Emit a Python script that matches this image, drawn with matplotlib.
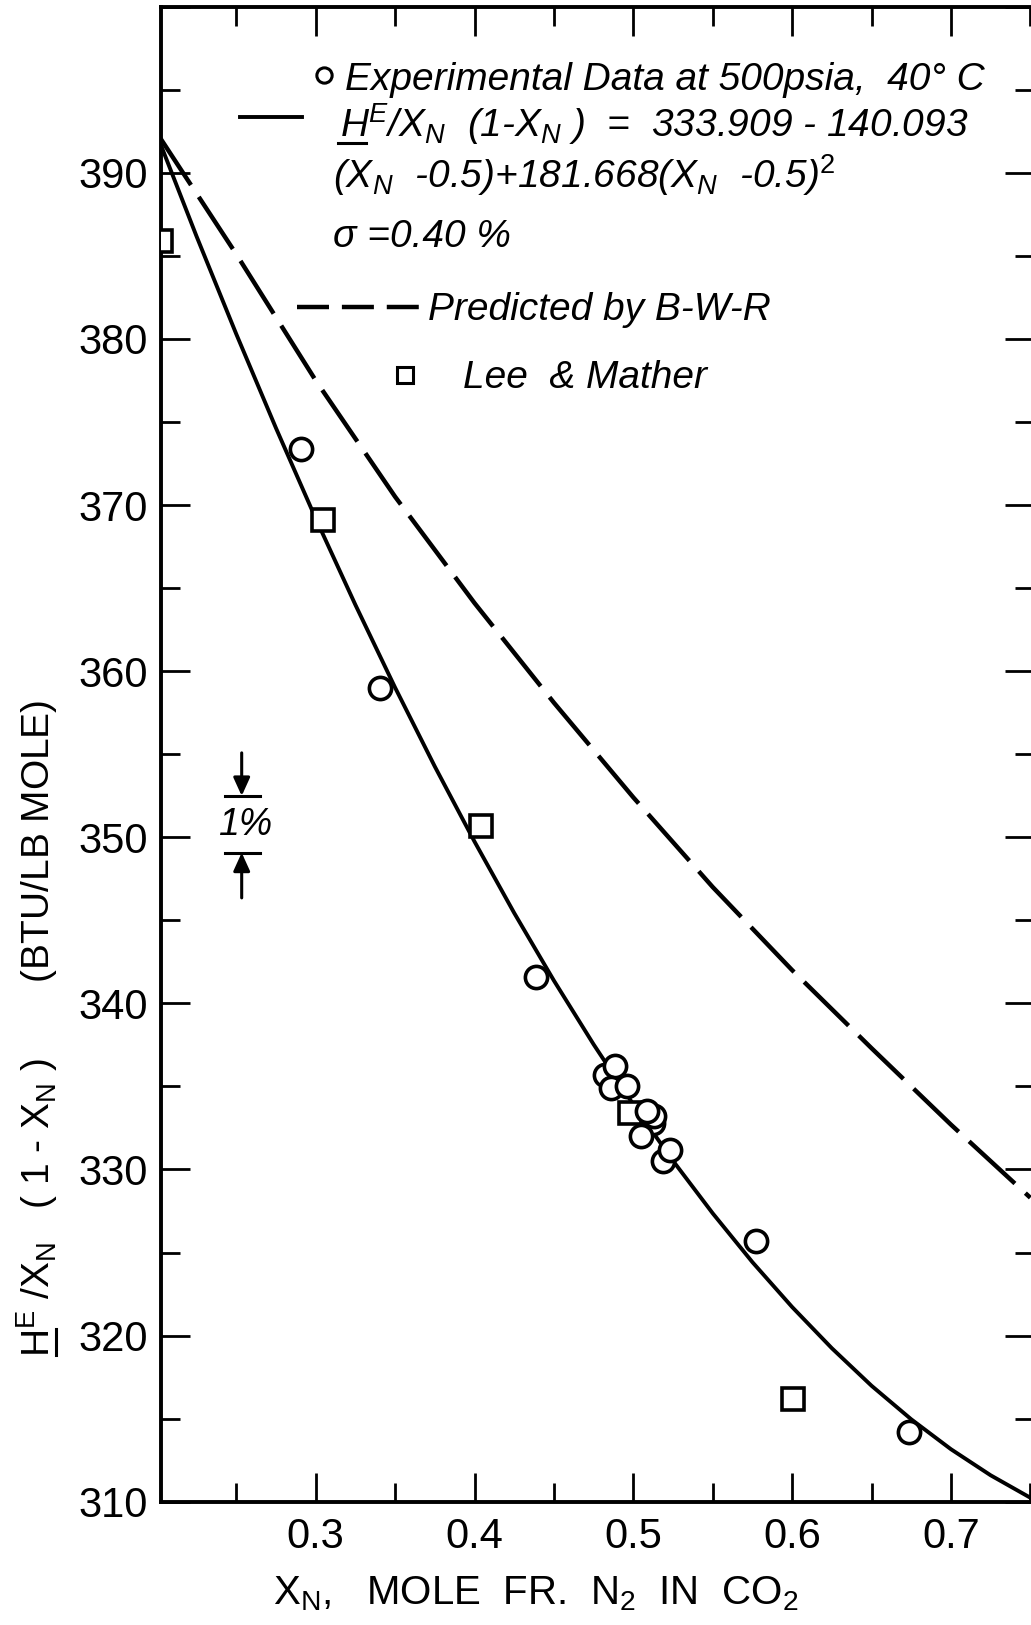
import matplotlib
matplotlib.use('Agg')
import matplotlib.pyplot as plt
from matplotlib.lines import Line2D

plt.rcParams['font.family'] = ['Liberation Sans', 'DejaVu Sans']
plt.rcParams['mathtext.fontset'] = 'custom'
plt.rcParams['mathtext.rm'] = 'Liberation Sans'
plt.rcParams['mathtext.it'] = 'Liberation Sans:italic'
plt.rcParams['mathtext.bf'] = 'Liberation Sans:bold'

W, H = 1031, 1625

# Courbe lissée (HE/xN(1-xN))
fit_x = [0.200, 0.225, 0.250, 0.275, 0.300, 0.325, 0.350, 0.375, 0.400, 0.425, 0.450, 0.475,
         0.500, 0.525, 0.550, 0.575, 0.600, 0.625, 0.650, 0.675, 0.700, 0.725, 0.750]
fit_y = [392.29, 386.17, 380.29, 374.63, 369.19, 363.99, 359.01, 354.26, 349.74, 345.44, 341.37, 337.53,
         333.91, 330.52, 327.36, 324.42, 321.72, 319.24, 316.98, 314.96, 313.16, 311.59, 310.24]

# Prédiction B-W-R (tirets)
bwr_x = [0.20, 0.25, 0.30, 0.35, 0.40, 0.45, 0.50, 0.55, 0.60, 0.65, 0.70, 0.75]
bwr_y = [392.4, 385.1, 377.5, 370.5, 364.1, 358.1, 352.4, 347.0, 342.0, 337.3, 332.7, 328.3]

# Données expérimentales (cercles)
exp_x = [0.2910, 0.3405, 0.4386, 0.4823, 0.4882, 0.4861, 0.4960, 0.5124, 0.5131, 0.5086,
         0.5046, 0.5188, 0.5230, 0.5774, 0.6737]
exp_y = [373.4, 359.0, 341.6, 335.7, 336.2, 334.9, 335.0, 332.8, 333.2, 333.5,
         332.0, 330.5, 331.2, 325.7, 314.2]

# Lee & Mather (carrés)
lee_x = [0.2023, 0.3046, 0.4042, 0.4977, 0.6003]
lee_y = [385.9, 369.1, 350.7, 333.4, 316.2]

xticks = [0.3, 0.4, 0.5, 0.6, 0.7]
xtick_labels = ['0.3', '0.4', '0.5', '0.6', '0.7']
xminor = [0.25, 0.35, 0.45, 0.55, 0.65, 0.75]
yticks = [310, 320, 330, 340, 350, 360, 370, 380, 390, 400]
ytick_labels = ['310', '320', '330', '340', '350', '360', '370', '380', '390', '']
yminor = [315, 325, 335, 345, 355, 365, 375, 385, 395]

# repère 1 %
pct_bar_x = [0.2429, 0.2649]
pct_arrow_x = 0.2534
pct_top, pct_bot = 352.49, 349.07
pct_top_tail, pct_bot_tail = 355.08, 346.35


def fx(px):
    return px / W


def fy(py):
    return 1 - py / H


fig = plt.figure(figsize=(W / 100, H / 100), dpi=100)
ax = fig.add_axes([fx(160.7), fy(1501.7), 873.3 / W, 1495 / H])
ax.set_xlim(0.2024, 0.7523)
ax.set_ylim(310, 400)

ax.plot(fit_x, fit_y, color='black', lw=2.8, zorder=2)
bwr_line, = ax.plot(bwr_x, bwr_y, color='black', lw=3.2, zorder=2)
bwr_line.set_dashes([14.0, 3.2])
ax.plot(lee_x, lee_y, ls='none', marker='s', ms=15.5, mfc='white', mec='black', mew=2.6, zorder=3)
ax.plot(exp_x, exp_y, ls='none', marker='o', ms=16, mfc='white', mec='black', mew=2.6, zorder=4)

# 1 %
for yb in (pct_top, pct_bot):
    ax.plot(pct_bar_x, [yb, yb], color='black', lw=2.2)
ap = dict(arrowstyle='-|>,head_length=0.55,head_width=0.25', color='black', lw=2.2,
          shrinkA=0, shrinkB=0, mutation_scale=20)
ax.annotate('', xy=(pct_arrow_x, pct_top), xytext=(pct_arrow_x, pct_top_tail), arrowprops=ap)
ax.annotate('', xy=(pct_arrow_x, pct_bot), xytext=(pct_arrow_x, pct_bot_tail), arrowprops=ap)
ax.text(0.2555, 350.74, '1%', style='italic', fontsize=27, ha='center', va='center')

# axes
for s in ('left', 'bottom', 'top'):
    ax.spines[s].set_linewidth(2.8)
ax.spines['right'].set_visible(False)
ax.set_xticks(xticks)
ax.set_xticklabels(xtick_labels)
ax.set_xticks(xminor, minor=True)
ax.set_yticks(yticks)
ax.set_yticklabels(ytick_labels)
ax.set_yticks(yminor, minor=True)
ax.tick_params(which='both', direction='in', top=True, right=True, width=2)
ax.tick_params(which='major', length=21, labelsize=30)
ax.tick_params(which='minor', length=13.5)
ax.tick_params(axis='x', which='major', pad=11)
ax.tick_params(axis='y', which='major', pad=9)

# titres des axes
fig.text(fx(273), fy(1604), r'X$_{\rm N}$,   MOLE  FR.  N$_{\rm 2}$  IN  CO$_{\rm 2}$',
         fontsize=29, ha='left', va='baseline')
fig.text(fx(50), fy(1357), r'H$^{\rm E}$ /X$_{\rm N}$   ( 1 - X$_{\rm N}$ )       (BTU/LB MOLE)',
         fontsize=28, rotation=90, rotation_mode='anchor', ha='left', va='baseline')
fig.add_artist(Line2D([fx(56), fx(56)], [fy(1355), fy(1329)], color='black', lw=2.2,
                      transform=fig.transFigure))

# légende
fs = 28
fig.add_artist(Line2D([fx(324)], [fy(75)], marker='o', ms=11, mfc='white', mec='black', mew=2.2,
                      transform=fig.transFigure))
fig.text(fx(345), fy(90), 'Experimental Data at 500psia,  40° C', style='italic', fontsize=fs,
         ha='left', va='baseline')
fig.add_artist(Line2D([fx(240), fx(302)], [fy(117), fy(117)], color='black', lw=2.8,
                      transform=fig.transFigure))
fig.text(fx(340), fy(137), r'H$^{E}$/X$_{N}$  (1-X$_{N}$ )  =  333.909 - 140.093', style='italic',
         fontsize=fs, ha='left', va='baseline')
fig.add_artist(Line2D([fx(338), fx(366)], [fy(143), fy(143)], color='black', lw=2.2,
                      transform=fig.transFigure))
fig.text(fx(333), fy(188), r'(X$_{N}$  -0.5)+181.668(X$_{N}$  -0.5)$^{2}$', style='italic',
         fontsize=fs, ha='left', va='baseline')
fig.text(fx(333), fy(247), 'σ =0.40 %', style='italic', fontsize=fs, ha='left', va='baseline')
leg_dash = Line2D([fx(297), fx(420)], [fy(307), fy(307)], color='black', lw=3.2,
                  transform=fig.transFigure)
leg_dash.set_dashes([7.2, 2.9])
fig.add_artist(leg_dash)
fig.text(fx(428), fy(320), 'Predicted by B-W-R', style='italic', fontsize=fs, ha='left', va='baseline')
fig.add_artist(Line2D([fx(405)], [fy(375)], marker='s', ms=12, mfc='white', mec='black', mew=2.2,
                      transform=fig.transFigure))
fig.text(fx(463), fy(388), 'Lee  & Mather', style='italic', fontsize=fs, ha='left', va='baseline')

fig.savefig('out.png', dpi=100)
